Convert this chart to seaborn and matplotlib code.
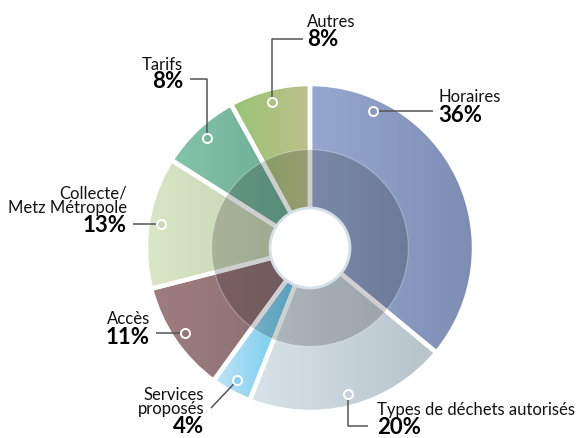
import numpy as np
import matplotlib
matplotlib.use("Agg")
import matplotlib.pyplot as plt
import seaborn as sns
from matplotlib.colors import ListedColormap
from matplotlib.patches import Circle

# data
categories = ["Horaires", "Types de déchets autorisés", "Services\nproposés", "Accès",
              "Collecte/\nMetz Métropole", "Tarifs", "Autres"]
shares = [36, 20, 4, 11, 13, 8, 8]
pct_labels = [f"{v}%" for v in shares]

# each slice is a left -> right horizontal gradient
left_colors = ["#97a8d0", "#d8e3e9", "#bfe4f7", "#9d7d80", "#dae6c6", "#84c4ab", "#98c475"]
right_colors = ["#7d8db4", "#b6c3ca", "#55c1ea", "#8a6d71", "#bfcfae", "#68a892", "#bdc08c"]

W, H = 578, 439
CX, CY, R = 310, H - 249, 164


def Y(y):
    # reference pixel row -> data y
    return H - y


sns.set_style("white")
plt.rcParams["font.family"] = ["Lato", "DejaVu Sans"]

fig = plt.figure(figsize=(W / 100, H / 100), dpi=100)
ax = fig.add_axes([0, 0, 1, 1])

wedges, _ = ax.pie(shares, startangle=90, counterclock=False, center=(CX, CY), radius=R,
                   wedgeprops=dict(facecolor="none", edgecolor="white", linewidth=3.2))

for w, c0, c1 in zip(wedges, left_colors, right_colors):
    bb = w.get_path().get_extents()
    cmap = ListedColormap(sns.blend_palette([c0, c1], 64))
    im = ax.imshow(np.linspace(0, 1, 64)[None, :], cmap=cmap, aspect="auto",
                   extent=(bb.x0, bb.x1, bb.y0, bb.y1), zorder=1, interpolation="bilinear")
    im.set_clip_path(w)
    w.set_zorder(2)

# darker inner ring + white hole
ax.add_patch(Circle((CX, CY), 0.6 * R, facecolor="black", alpha=0.19, edgecolor="none", zorder=3))
ax.add_patch(Circle((CX, CY), 0.6 * R, facecolor="none", edgecolor="white", alpha=0.3, lw=0.8, zorder=3))
ax.add_patch(Circle((CX, CY), 40, facecolor="white", edgecolor="#d3e0e8", lw=2, zorder=4))

# labels: marker position inside the slice, leader line, text
marker_frac = [0.19, 0.5, 0.5, 0.5, 0.5, 0.5, 0.5]
label_xy = [(438, 115), (377, 428), (204, 427), (150, 337), (127, 226), (183, 82), (307, 39)]
label_ha = ["left", "left", "right", "right", "right", "right", "left"]
leaders = [("h", 433), ("vh", 427, 368), ("d", 211, 409), ("h", 156), ("h", 133),
           ("vh", 80, 190), ("vh", 40, 303)]

for i, w in enumerate(wedges):
    ang = np.deg2rad(w.theta2 - marker_frac[i] * (w.theta2 - w.theta1))
    mx, my = CX + 0.92 * R * np.cos(ang), CY + 0.92 * R * np.sin(ang)
    ld = leaders[i]
    if ld[0] == "h":
        xs, ys = [mx, ld[1]], [my, my]
    elif ld[0] == "vh":
        xs, ys = [mx, mx, ld[2]], [my, Y(ld[1]), Y(ld[1])]
    else:
        xs, ys = [mx, ld[1]], [my, Y(ld[2])]
    ax.plot(xs, ys, color="#555555", lw=1.1, zorder=5, solid_capstyle="butt")
    mc = sns.blend_palette([left_colors[i], right_colors[i]], 3)[1]
    ax.plot(mx, my, "o", ms=6.5, mfc=mc, mec="white", mew=1.4, zorder=6)

    tx, ty = label_xy[i]
    ax.text(tx, Y(ty), pct_labels[i], ha=label_ha[i], va="center", fontsize=16,
            fontweight="bold", color="black", zorder=7)
    ax.text(tx, Y(ty) + 9.5, categories[i], ha=label_ha[i], va="bottom", fontsize=12,
            color="#111111", linespacing=0.92, multialignment=label_ha[i], zorder=7)

ax.set_xlim(0, W)
ax.set_ylim(0, H)
ax.set_aspect("equal")
ax.axis("off")

fig.savefig("out.png", dpi=100, facecolor="white")
